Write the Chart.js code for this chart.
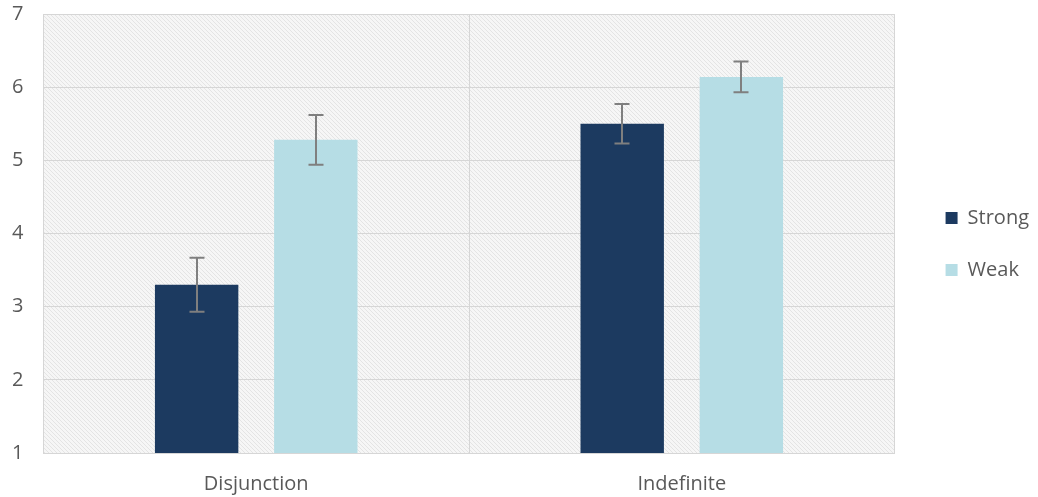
<!DOCTYPE html>
<html>
<head>
<meta charset="utf-8">
<script src="https://cdn.jsdelivr.net/npm/chart.js@4/dist/chart.umd.min.js"></script>
<style>
  html, body { margin: 0; padding: 0; background: #ffffff; }
  #wrap { width: 1038px; height: 497px; position: relative; }
</style>
</head>
<body>
<div id="wrap"><canvas id="c" width="1038" height="497"></canvas></div>
<script>
const categories = ["Disjunction", "Indefinite"];
const seriesNames = ["Strong", "Weak"];
const strongValues = [3.30, 5.50];
const weakValues = [5.28, 6.14];
const strongErrors = [0.37, 0.27];
const weakErrors = [0.34, 0.21];
const yTicks = [1, 2, 3, 4, 5, 6, 7];

const FONT = "'Open Sans', 'Liberation Sans', sans-serif";
const FSIZE = 20;

function makeHatch() {
  const p = document.createElement('canvas');
  p.width = 4; p.height = 4;
  const g = p.getContext('2d');
  g.fillStyle = '#f6f6f6';
  g.fillRect(0, 0, 4, 4);
  g.strokeStyle = '#e4e4e4';
  g.lineWidth = 1;
  g.beginPath();
  g.moveTo(-1, -1); g.lineTo(5, 5);
  g.moveTo(-1, 3); g.lineTo(1, 5);
  g.moveTo(3, -1); g.lineTo(5, 1);
  g.stroke();
  return p;
}

const hatchPlugin = {
  id: 'hatch',
  beforeDraw(chart) {
    const { ctx, chartArea: a } = chart;
    ctx.save();
    ctx.fillStyle = ctx.createPattern(makeHatch(), 'repeat');
    ctx.fillRect(a.left, a.top, a.right - a.left, a.bottom - a.top);
    ctx.restore();
  }
};

const legendShift = {
  id: 'legendShift',
  afterLayout(chart) {
    if (chart.legend) {
      chart.legend.left += 19;
      chart.legend.right += 19;
      chart.legend.top -= 11;
      chart.legend.bottom -= 11;
    }
  }
};

const errorPlugin = {
  id: 'errbars',
  afterDatasetsDraw(chart) {
    const { ctx } = chart;
    const y = chart.scales.y;
    ctx.save();
    ctx.strokeStyle = '#7f7f7f';
    ctx.lineWidth = 2;
    chart.data.datasets.forEach((ds, di) => {
      const meta = chart.getDatasetMeta(di);
      meta.data.forEach((bar, i) => {
        const v = ds.data[i], e = ds.errors[i];
        const x = Math.round(bar.x);
        const yt = y.getPixelForValue(v + e);
        const yb = y.getPixelForValue(v - e);
        ctx.beginPath();
        ctx.moveTo(x, yt); ctx.lineTo(x, yb);
        ctx.moveTo(x - 7.5, yt); ctx.lineTo(x + 7.5, yt);
        ctx.moveTo(x - 7.5, yb); ctx.lineTo(x + 7.5, yb);
        ctx.stroke();
      });
    });
    ctx.restore();
  }
};

new Chart(document.getElementById('c'), {
  type: 'bar',
  data: {
    labels: categories,
    datasets: [
      { label: seriesNames[0], data: strongValues, errors: strongErrors, backgroundColor: '#1c3a60', categoryPercentage: 0.56, barPercentage: 0.70 },
      { label: seriesNames[1], data: weakValues, errors: weakErrors, backgroundColor: '#b6dde5', categoryPercentage: 0.56, barPercentage: 0.70 }
    ]
  },
  options: {
    responsive: false,
    animation: false,
    layout: { padding: { top: 14, right: 18, left: 12, bottom: 1 } },
    plugins: {
      legend: {
        position: 'right',
        labels: {
          boxWidth: 12, boxHeight: 12, padding: 32,
          color: '#595959',
          font: { family: FONT, size: FSIZE }
        }
      },
      tooltip: { enabled: false }
    },
    scales: {
      x: {
        afterFit(axis) { axis.height -= 19; axis.paddingLeft = 0; axis.paddingRight = 0; },
        grid: { color: '#d6d6d6', drawTicks: false, offset: true },
        border: { color: '#d6d6d6' },
        ticks: { color: '#595959', padding: 19, font: { family: FONT, size: FSIZE } }
      },
      y: {
        min: 1, max: 7,
        afterBuildTicks(axis) { axis.ticks = yTicks.map(v => ({ value: v })); },
        afterFit(axis) { axis.paddingTop = 0; axis.paddingBottom = 0; axis.width -= 20; },
        grid: { color: '#d6d6d6', drawTicks: false },
        border: { color: '#d6d6d6' },
        ticks: { color: '#595959', padding: 20, font: { family: FONT, size: FSIZE } }
      }
    }
  },
  plugins: [hatchPlugin, errorPlugin, legendShift]
});
</script>
</body>
</html>
